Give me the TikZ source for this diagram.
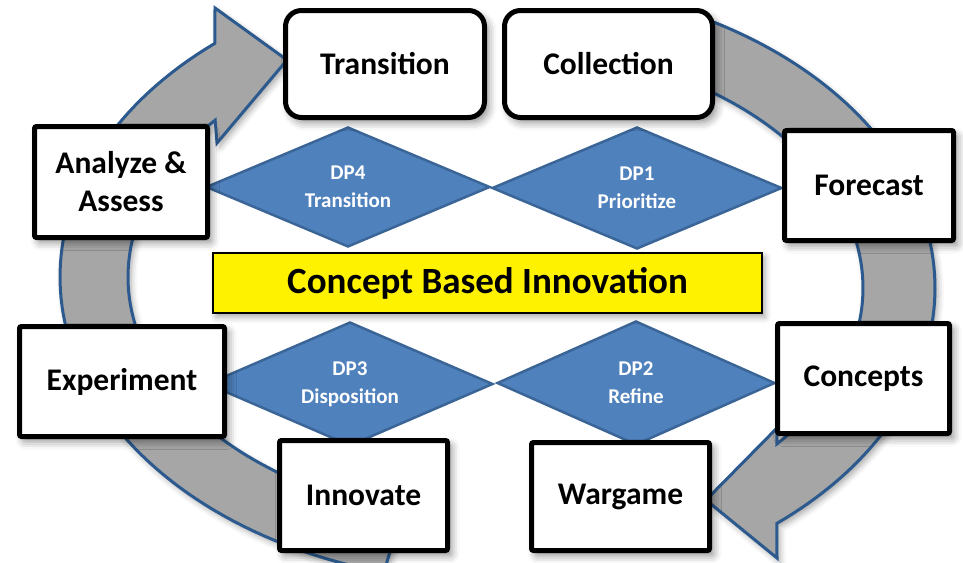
\documentclass[tikz,border=0pt]{standalone}
\usepackage{fontspec}
\setmainfont{Carlito}
\usetikzlibrary{shapes.geometric,shadows.blur}
\definecolor{ringgray}{HTML}{A6A6A6}
\definecolor{ringblue}{HTML}{2C5A8E}
\definecolor{dpfill}{HTML}{4F81BD}
\definecolor{dpline}{HTML}{3A6596}
\begin{document}
\begin{tikzpicture}[x=1pt,y=-1pt,
  ringband/.style={fill=ringgray, draw=ringblue, line width=3pt, line join=miter,
    blur shadow={shadow xshift=3pt, shadow yshift=-4pt, shadow blur radius=6pt, shadow opacity=35}},
  stepbox/.style={draw=black, fill=white, line width=5pt, rounded corners=2pt,
    inner sep=0pt, align=center, font=\bfseries\fontsize{31.5}{38}\selectfont,
    blur shadow={shadow xshift=4pt, shadow yshift=-5pt, shadow blur radius=8pt, shadow opacity=45}},
  roundbox/.style={stepbox, rounded corners=16pt},
  dpnode/.style={diamond, aspect=2.4, fill=dpfill, draw=dpline, line width=2.5pt,
    text=white, inner sep=0pt, align=center, font=\bfseries\fontsize{21}{28}\selectfont},
  titlebox/.style={draw=black, fill=yellow, line width=2pt, inner sep=0pt,
    font=\bfseries\fontsize{37}{42}\selectfont,
    blur shadow={shadow xshift=3pt, shadow yshift=-4pt, shadow blur radius=6pt, shadow opacity=35}}
]
\useasboundingbox (0,0) rectangle (963,562);

% left ring segment with arrowhead towards Transition
\draw[ringband]
  plot[domain=255:130.2, samples=80, variable=\t] ({497+437*cos(\t)},{277-306*sin(\t)})
  -- (215,8) -- (287,60) -- (217,143)
  -- plot[domain=139.8:255, samples=80, variable=\t] ({497+369*cos(\t)},{277-243*sin(\t)})
  -- cycle;

% right ring segment with arrowhead towards Wargame
\draw[ringband]
  plot[domain=63:-50.3, samples=80, variable=\t] ({497+438*cos(\t)},{288-306*sin(\t)})
  -- (777,558) -- (706,500) -- (777,428)
  -- plot[domain=-40.1:63, samples=80, variable=\t] ({497+366*cos(\t)},{288-242*sin(\t)})
  -- cycle;

% decision points
\node[dpnode, minimum width=284, minimum height=120] (dp4) at (348,187) {DP4\\Transition};
\node[dpnode, minimum width=290, minimum height=122] (dp1) at (637,188) {DP1\\Prioritize};
\node[dpnode, minimum width=286, minimum height=124] (dp3) at (350,384) {DP3\\Disposition};
\node[dpnode, minimum width=278, minimum height=124] (dp2) at (636,383) {DP2\\Refine};

% title
\node[titlebox, minimum width=549, minimum height=60] (cbi) at (487.5,283) {Concept Based Innovation};

% steps
\node[roundbox, minimum width=199, minimum height=107] (trans) at (385,64) {Transition};
\node[roundbox, minimum width=208, minimum height=107] (coll) at (608.5,64) {Collection};
\node[stepbox, minimum width=173, minimum height=111] (anal) at (121,182) {Analyze \&\\Assess};
\node[stepbox, minimum width=169, minimum height=110] (fore) at (869,185.5) {Forecast};
\node[stepbox, minimum width=205, minimum height=110] (expe) at (122,381.5) {Experiment};
\node[stepbox, minimum width=172, minimum height=110] (conc) at (863.5,378.5) {Concepts};
\node[stepbox, minimum width=168, minimum height=110] (inno) at (363.5,495.5) {Innovate};
\node[stepbox, minimum width=178, minimum height=108] (warg) at (620.5,496.5) {Wargame};
\end{tikzpicture}
\end{document}
